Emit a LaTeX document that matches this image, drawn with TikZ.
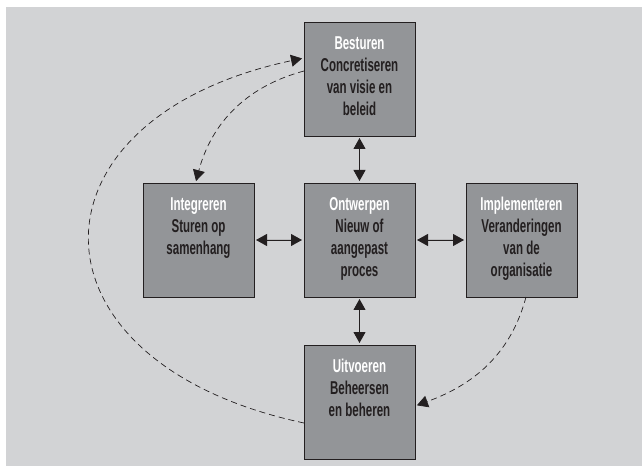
\documentclass[tikz,border=0pt]{standalone}
\usepackage{fontspec}
\setmainfont{Liberation Sans}[FakeStretch=0.62]
\usepackage{tikz}
\usetikzlibrary{arrows.meta}
\definecolor{bggray}{HTML}{D2D3D5}
\definecolor{boxgray}{HTML}{939598}
\definecolor{inkdark}{HTML}{231F20}
\newcommand{\stagetext}[2]{\parbox[c][114pt][t]{111pt}{\centering\fontsize{18.6}{22}\selectfont\bfseries
    \vspace*{14.5pt}{\color{white}#1}\\#2}}
\tikzset{
    stage/.style={draw=inkdark, line width=0.9pt, fill=boxgray, text=inkdark, inner sep=0pt, outer sep=0pt},
    biarrow/.style={{Triangle[length=11pt,width=12pt]}-{Triangle[length=11pt,width=12pt]}, draw=inkdark, fill=inkdark, line width=0.9pt, shorten <=2pt, shorten >=2pt},
    flowdash/.style={-{Triangle[length=11pt,width=12pt]}, draw=inkdark, line width=0.7pt, dash pattern=on 6pt off 4pt, shorten >=2pt}
}

\begin{document}
\begin{tikzpicture}[x=1pt, y=1pt]
    \useasboundingbox (0,0) rectangle (642,466);
    \fill[bggray] (6,0) rectangle (642,459);

    \node[stage] (bes) at (359.5,387) {\stagetext{Besturen}{Concretiseren\\van visie en\\beleid}};
    \node[stage] (ont) at (359.5,226) {\stagetext{Ontwerpen}{Nieuw of\\aangepast\\proces}};
    \node[stage] (int) at (198.5,226) {\stagetext{Integreren}{Sturen op\\samenhang}};
    \node[stage] (imp) at (521.5,226) {\stagetext{Implementeren}{Veranderingen\\van de\\organisatie}};
    \node[stage] (uit) at (359.5,64) {\stagetext{Uitvoeren}{Beheersen\\en beheren}};

    \draw[biarrow] (bes) -- (ont);
    \draw[biarrow] (int) -- (ont);
    \draw[biarrow] (ont) -- (imp);
    \draw[biarrow] (ont) -- (uit);

    \draw[flowdash] ([yshift=8pt]bes.west) to[out=195, in=75] ([xshift=-3pt]int.north);
    \draw[flowdash] ([yshift=-21pt]uit.west) to[out=168, in=192, looseness=2.05] ([yshift=21pt]bes.west);
    \draw[flowdash] ([xshift=4.5pt]imp.south) to[out=255, in=20] ([yshift=-4pt]uit.east);
\end{tikzpicture}
\end{document}
